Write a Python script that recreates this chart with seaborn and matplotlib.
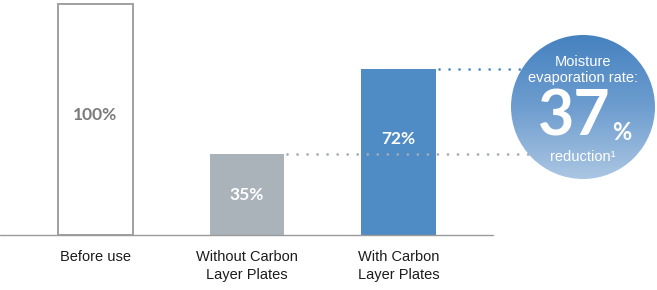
import numpy as np
import pandas as pd
import matplotlib
matplotlib.use("Agg")
import matplotlib.pyplot as plt
from matplotlib.patches import Ellipse
from matplotlib.colors import LinearSegmentedColormap
import seaborn as sns

# ---- data ----
categories = ["Before use", "Without Carbon\nLayer Plates", "With Carbon\nLayer Plates"]
values = [100, 35, 72]
value_labels = ["100%", "35%", "72%"]
reduction_value = "37"
callout_top = ["Moisture", "evaporation rate:"]
callout_bottom = "reduction\u00b9"

# ---- style ----
sns.set_theme(style="white")
plt.rcParams["font.family"] = ["Liberation Sans", "DejaVu Sans"]

bar_fill = ["#ffffff", "#abb3ba", "#4f8cc5"]
label_colors = ["#7b7b7b", "#ffffff", "#ffffff"]

W, H, DPI = 657, 290, 100
fig = plt.figure(figsize=(W / DPI, H / DPI), dpi=DPI)
ax = fig.add_axes([0, 0, 1, 1])

# pixel geometry -> data limits
x0_px, step_px = 95.5, 151.5
base_px, unit_px = 55.0, 2.31
XL = (-x0_px / step_px, (W - x0_px) / step_px)
YL = (-base_px / unit_px, (H - base_px) / unit_px)

df = pd.DataFrame({"category": categories, "value": values})
sns.barplot(data=df, x="category", y="value", hue="category", palette=bar_fill,
            legend=False, width=0.49, ax=ax, zorder=2, saturation=1)
for i, p in enumerate(ax.patches):
    if i == 0:
        p.set_edgecolor("#a0a0a0")
        p.set_linewidth(1.4)
    else:
        p.set_edgecolor("none")

ax.axis("off")

def py(px):
    return (H - px - base_px) / unit_px

def px_x(px):
    return (px - x0_px) / step_px

# baseline
ax.plot([XL[0], px_x(493)], [0, 0], color="#9a9a9a", lw=1.0, zorder=3)

# value labels
label_y = [py(115), py(195), py(139)]
for i, (lab, c) in enumerate(zip(value_labels, label_colors)):
    ax.text(i, label_y[i], lab, ha="center", va="center", color=c, fontsize=12.5,
            fontweight="bold", family=["Lato", "DejaVu Sans"], zorder=4)

# category labels
for i, cat in enumerate(categories):
    ax.text(i, py(250), cat, ha="center", va="top", color="#1c1c1c", fontsize=10.5,
            linespacing=1.4, zorder=4)

# callout circle
cx = px_x(583)
cy = py(107)
rw = 2 * 72 / step_px
rh = 2 * 72 / unit_px

half = 0.5 * 0.49
ax.plot([2 + half + 0.02, cx], [values[2], values[2]], color="#4f8cc5", lw=2.0,
        linestyle=(0, (0.01, 3.6)), dash_capstyle="round", zorder=3)
ax.plot([1 + half + 0.02, cx], [values[1], values[1]], color="#a3acb5", lw=2.0,
        linestyle=(0, (0.01, 3.6)), dash_capstyle="round", zorder=3)

circle = Ellipse((cx, cy), rw, rh, facecolor="none", edgecolor="none", zorder=5)
ax.add_patch(circle)
cmap = LinearSegmentedColormap.from_list("g", ["#4582c0", "#6e9dcf", "#abc6e3"])
grad = np.linspace(0, 1, 256).reshape(-1, 1)
im = ax.imshow(grad, cmap=cmap, aspect="auto", origin="upper",
               extent=[cx - rw / 2, cx + rw / 2, cy - rh / 2, cy + rh / 2], zorder=5)
im.set_clip_path(circle)
ax.set_xlim(*XL)
ax.set_ylim(*YL)

ax.text(px_x(583), py(62), callout_top[0], ha="center", va="center", color="white",
        fontsize=10.5, zorder=6)
ax.text(px_x(583), py(78), callout_top[1], ha="center", va="center", color="white",
        fontsize=10.5, zorder=6)
ax.text(px_x(574), py(118), reduction_value, ha="center", va="center", color="white",
        fontsize=45, fontweight="bold", family=["Lato", "DejaVu Sans"], zorder=6)
ax.text(px_x(622), py(132), "%", ha="center", va="center", color="white",
        fontsize=17, fontweight="bold", family=["Lato", "DejaVu Sans"], zorder=6)
ax.text(px_x(583), py(157), callout_bottom, ha="center", va="center", color="white",
        fontsize=10.5, zorder=6)

fig.savefig("out.png", dpi=DPI)
